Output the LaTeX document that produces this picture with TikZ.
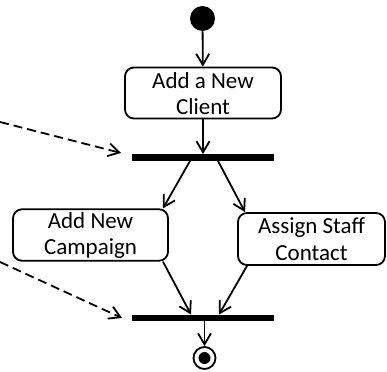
\documentclass[tikz,border=0pt]{standalone}
\usepackage{fontspec}
\setmainfont{Carlito}
\usetikzlibrary{arrows.meta}
\begin{document}
\begin{tikzpicture}[x=1pt,y=-1pt,
  act/.style={draw,line width=1.8pt,rounded corners=9pt,align=center,inner sep=0pt,text depth=0pt,font=\fontsize{23}{26.5}\selectfont},
  bar/.style={fill=black,inner sep=0pt,minimum width=142pt,minimum height=6.5pt},
  flow/.style={line width=1.8pt,-{Straight Barb[length=11pt,width=13pt]}},
  note/.style={flow,dash pattern=on 9pt off 5pt}]
\useasboundingbox (0,0) rectangle (387,371);
\node[circle,fill=black,inner sep=0pt,minimum size=25pt] (start) at (202.5,18.5) {};
\node[act,minimum width=156pt,minimum height=51pt,text height=44pt] (client) at (203,93) {Add a New\\Client};
\node[bar] (fork) at (203,157.5) {};
\node[act,minimum width=155pt,minimum height=51.5pt,text height=39pt] (campaign) at (90.5,235) {Add New\\Campaign};
\node[act,minimum width=147pt,minimum height=52pt,text height=42pt] (staff) at (311.5,239) {Assign Staff\\Contact};
\node[bar] (join) at (203,318) {};
\node[circle,draw,line width=1.8pt,inner sep=0pt,minimum size=22pt] (final) at (204.5,358) {};
\node[circle,fill=black,inner sep=0pt,minimum size=12pt] (finaldot) at (204.5,358) {};
\coordinate (n1a) at (0,122);
\coordinate (n1b) at (121,153);
\coordinate (n2a) at (0,262);
\coordinate (n2b) at (122,318);
\draw[flow] (start) -- (client);
\draw[flow] (client.south -| fork) -- (fork);
\draw[flow] ([xshift=-13pt]fork.south) -- ([xshift=72.5pt]campaign.north);
\draw[flow] ([xshift=15pt]fork.south) -- ([xshift=-66.5pt]staff.north);
\draw[flow] ([xshift=72.5pt]campaign.south) -- ([xshift=-12pt]join.north);
\draw[flow] ([xshift=-64.5pt]staff.south) -- ([xshift=16pt]join.north);
\draw[flow] (join.south -| final) -- (final);
\draw[note] (n1a) -- (n1b);
\draw[note] (n2a) -- (n2b);
\end{tikzpicture}
\end{document}
